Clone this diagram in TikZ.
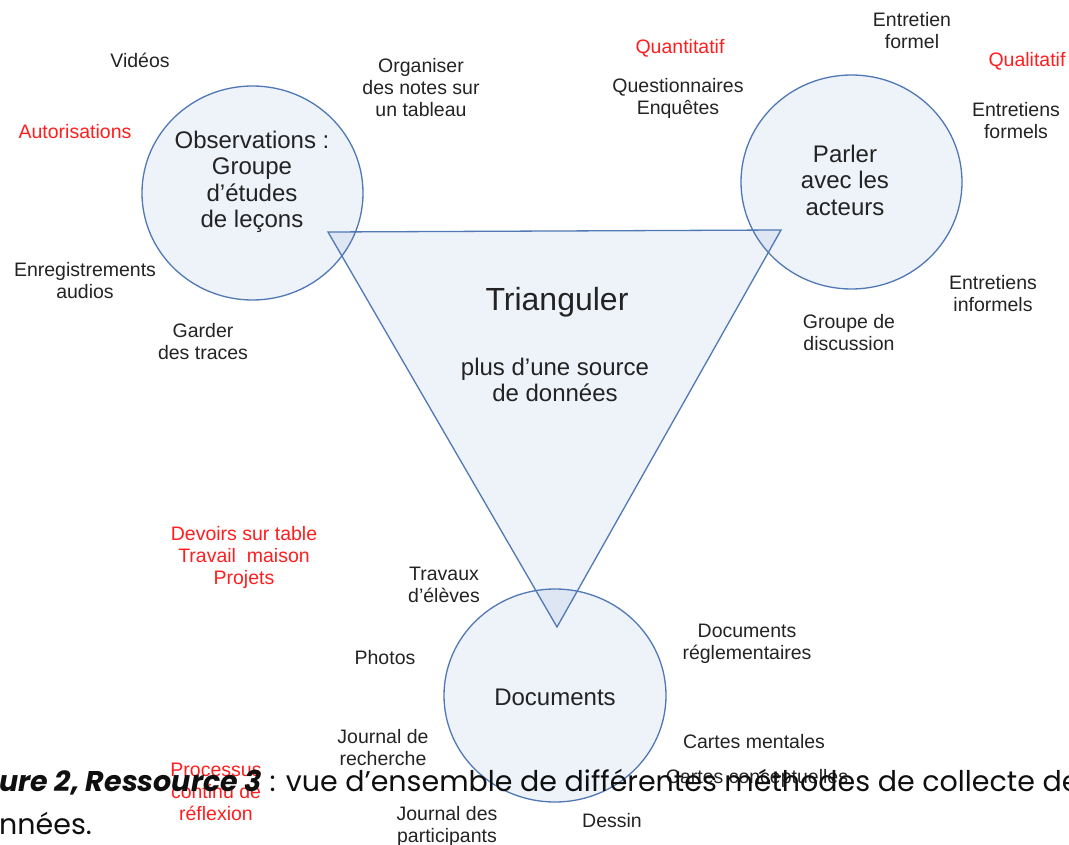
\documentclass[tikz,border=0pt]{standalone}
\usepackage{fontspec}
\setmainfont{Liberation Sans}
\newfontfamily\capfont{Poppins}
\begin{document}
\begin{tikzpicture}[x=1pt,y=-1pt]
\definecolor{edge}{RGB}{79,120,180}
\definecolor{shade}{RGB}{85,125,195}
\definecolor{lbl}{RGB}{35,35,35}
\definecolor{redlbl}{RGB}{255,30,30}
\tikzset{
  zone/.style={draw=edge, line width=1.3pt, fill=shade, fill opacity=0.1},
  lab/.style={font=\fontsize{19.5}{22}\selectfont, text=lbl, align=center, inner sep=0pt},
  redlab/.style={lab, text=redlbl},
  big/.style={font=\fontsize{24}{26.5}\selectfont, text=lbl, align=center, inner sep=0pt},
  huge/.style={font=\fontsize{32}{34}\selectfont, text=lbl, align=center, inner sep=0pt},
  captext/.style={font=\capfont\fontsize{28.5}{33}\selectfont, text={rgb,255:red,15;green,15;blue,15}, anchor=base west, inner sep=0pt},
}
\useasboundingbox (0,0) rectangle (1069,845);
\clip (0,0) rectangle (1069,845);
% shapes
\path[zone] (252.5,193) ellipse [x radius=110.5, y radius=107];
\path[zone] (851.5,182) ellipse [x radius=110.5, y radius=107];
\path[zone] (555,695.5) ellipse [x radius=111, y radius=106.5];
\coordinate (tA) at (328,232);
\coordinate (tB) at (781,230);
\coordinate (tC) at (557,627);
\path[zone, line join=miter] (tA) -- (tB) -- (tC) -- cycle;
% central texts
\node[big] (obs) at (252,182) {Observations :\\Groupe\\d’études\\de leçons};
\node[big] (parl) at (845,180) {Parler\\avec les\\acteurs};
\node[big] (docs) at (555,697) {Documents};
\node[huge] (tri) at (557,302) {Trianguler};
\node[big] (src) at (555,380) {plus d’une source\\de données};
% labels
\node[lab] (vid) at (140,60) {Vidéos};
\node[lab] (org) at (421,88) {Organiser\\des notes sur\\un tableau};
\node[redlab] (aut) at (75,132) {Autorisations};
\node[lab] (enr) at (85,281) {Enregistrements\\audios};
\node[lab] (gar) at (203,342) {Garder\\des traces};
\node[redlab] (quant) at (680,48) {Quantitatif};
\node[lab] (quest) at (678,98) {Questionnaires\\Enquêtes};
\node[lab] (ef) at (912,31) {Entretien\\formel};
\node[redlab] (qual) at (1027,61) {Qualitatif};
\node[lab] (efs) at (1016,121) {Entretiens\\formels};
\node[lab] (ei) at (993,294) {Entretiens\\informels};
\node[lab] (gd) at (849,333) {Groupe de\\discussion};
\node[redlab] (dev) at (244,557) {Devoirs sur table\\Travail\ \ maison\\Projets};
\node[lab] (trav) at (444,585) {Travaux\\d’élèves};
\node[lab] (pho) at (385,658) {Photos};
\node[lab] (dr) at (747,644) {Documents\\réglementaires};
\node[lab] (jr) at (383,748) {Journal de\\recherche};
\node[lab] (cm) at (754,742) {Cartes mentales};
\node[lab] (cc) at (757,778) {Cartes conceptuelles};
\node[redlab] (proc) at (216,792) {Processus\\continu de\\réflexion};
\node[lab] (jp) at (447,826) {Journal des\\participants};
\node[lab] (des) at (612,821) {Dessin};
% caption
\node[captext] (cap1) at (-1,791) {\textbf{\textit{ure 2, Ressource 3}} : vue d’ensemble de différentes méthodes de collecte de};
\node[captext] (cap2) at (-1,834) {nnées.};
\end{tikzpicture}
\end{document}
